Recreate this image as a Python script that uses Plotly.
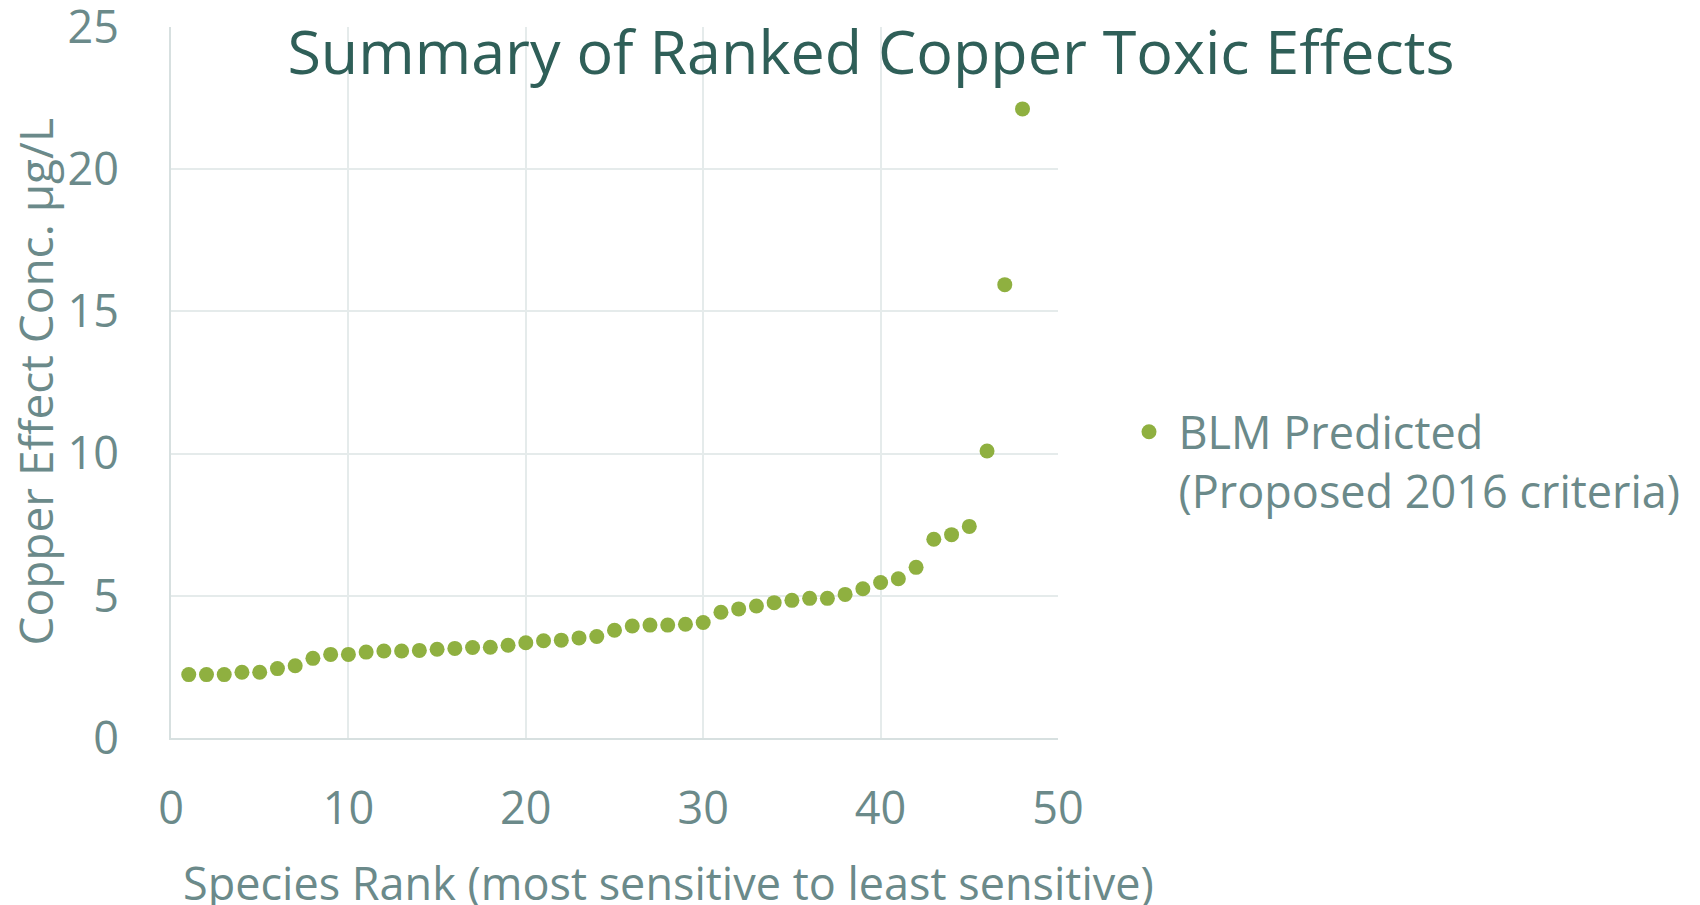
import plotly.graph_objects as go

ranks = list(range(1, 49))
conc = [2.23, 2.23, 2.23, 2.31, 2.31, 2.44, 2.54, 2.80, 2.94, 2.94,
        3.02, 3.06, 3.06, 3.08, 3.12, 3.15, 3.18, 3.19, 3.26, 3.35,
        3.42, 3.44, 3.52, 3.57, 3.79, 3.94, 3.97, 3.97, 4.00, 4.06,
        4.42, 4.54, 4.64, 4.76, 4.84, 4.91, 4.91, 5.05, 5.25, 5.47,
        5.60, 6.00, 6.99, 7.15, 7.44, 10.09, 15.94, 22.12]
series_name = "BLM Predicted<br>(Proposed 2016 criteria)"
x_ticks = [0, 10, 20, 30, 40, 50]
y_ticks = [0, 5, 10, 15, 20, 25]

FONT = "Open Sans"
TXT = "#6B8A8A"
GREEN = "#8FB040"
GRID = "#E5EBEB"

W, H = 1692, 897          # page has an 8px body margin
L, T = 163, 19
PW, PH = 887, 711
R, B = W - L - PW, H - T - PH

fig = go.Figure()
fig.add_trace(go.Scatter(
    x=ranks, y=conc, mode="markers", name=series_name,
    marker=dict(color=GREEN, size=15, line=dict(width=0)),
))

fig.update_layout(
    width=W, height=H,
    margin=dict(l=L, r=R, t=T, b=B, pad=0, autoexpand=False),
    paper_bgcolor="white", plot_bgcolor="white",
    font=dict(family=FONT, color=TXT, size=45),
    title=dict(text="Summary of Ranked Copper Toxic Effects",
               x=863 / W, xanchor="center", xref="container",
               y=1 - 45 / H, yanchor="middle", yref="container",
               font=dict(family=FONT, size=61, color="#2F5F58")),
    showlegend=True,
    legend=dict(x=1111.5 / W, xref="container", y=1 - 453 / H, yref="container",
                xanchor="left", yanchor="middle", valign="top",
                font=dict(family=FONT, size=45, color=TXT),
                itemwidth=49, bgcolor="rgba(0,0,0,0)", tracegroupgap=0),
    xaxis=dict(range=[0, 50], tickvals=x_ticks, showgrid=True, gridcolor=GRID, gridwidth=2,
               showline=True, linecolor="#D7E0E0", linewidth=2, zeroline=False,
               automargin=False,
               ticks="", ticklabelstandoff=30, ticklabeloverflow="allow",
               tickfont=dict(size=45, color=TXT)),
    yaxis=dict(range=[0, 25], tickvals=y_ticks, showgrid=True, gridcolor=GRID, gridwidth=2,
               showline=True, linecolor="#D7E0E0", linewidth=2, zeroline=False,
               automargin=False,
               ticks="", ticklabelstandoff=41, ticklabeloverflow="allow",
               tickfont=dict(size=45, color=TXT)),
    annotations=[
        dict(text="Species Rank (most sensitive to least sensitive)", xref="paper", yref="paper",
             x=(668 - 171) / PW, y=-(882 - 738) / PH, xanchor="center", yanchor="middle",
             showarrow=False, font=dict(family=FONT, size=45, color=TXT)),
        dict(text="Copper Effect Conc. µg/L", xref="paper", yref="paper",
             x=-(171 - 34) / PW, y=0.5, xanchor="center", yanchor="middle", textangle=-90,
             showarrow=False, font=dict(family=FONT, size=46, color=TXT)),
    ],
)
fig.write_html("out.html")
